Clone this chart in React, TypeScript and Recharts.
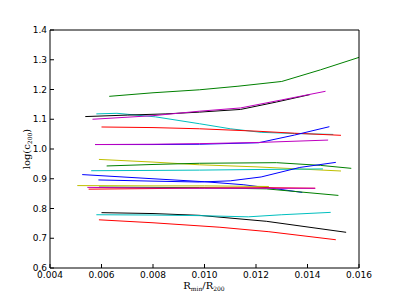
import { LineChart, Line, XAxis, YAxis } from "recharts";

type Pt = { x: number; y: number };

const xTicks = [0.004, 0.006, 0.008, 0.01, 0.012, 0.014, 0.016];
const yTicks = [0.6, 0.7, 0.8, 0.9, 1.0, 1.1, 1.2, 1.3, 1.4];

// upper bunch
const greenTop: Pt[] = [
  { x: 0.0063, y: 1.177 }, { x: 0.008, y: 1.189 }, { x: 0.0098, y: 1.199 },
  { x: 0.0113, y: 1.211 }, { x: 0.013, y: 1.227 }, { x: 0.0145, y: 1.266 },
  { x: 0.016, y: 1.308 },
];
const blackTop: Pt[] = [
  { x: 0.00537, y: 1.109 }, { x: 0.007, y: 1.114 }, { x: 0.0085, y: 1.118 },
  { x: 0.0098, y: 1.124 }, { x: 0.0114, y: 1.133 }, { x: 0.0128, y: 1.158 },
  { x: 0.0141, y: 1.183 },
];
const magentaTop: Pt[] = [
  { x: 0.00565, y: 1.1 }, { x: 0.008, y: 1.112 }, { x: 0.0098, y: 1.127 },
  { x: 0.0114, y: 1.138 }, { x: 0.013, y: 1.165 }, { x: 0.0147, y: 1.194 },
];
const cyanTop: Pt[] = [
  { x: 0.0058, y: 1.118 }, { x: 0.0066, y: 1.12 }, { x: 0.0081, y: 1.108 },
  { x: 0.0098, y: 1.085 }, { x: 0.011, y: 1.068 }, { x: 0.0122, y: 1.056 },
  { x: 0.0135, y: 1.052 }, { x: 0.015, y: 1.049 },
];
const redTop: Pt[] = [
  { x: 0.006, y: 1.074 }, { x: 0.008, y: 1.072 }, { x: 0.0098, y: 1.068 },
  { x: 0.012, y: 1.06 }, { x: 0.0135, y: 1.053 }, { x: 0.0153, y: 1.046 },
];
const blueOne: Pt[] = [
  { x: 0.00575, y: 1.015 }, { x: 0.008, y: 1.015 }, { x: 0.0098, y: 1.016 },
  { x: 0.0121, y: 1.021 }, { x: 0.0135, y: 1.047 }, { x: 0.01485, y: 1.075 },
];
const magentaOne: Pt[] = [
  { x: 0.00575, y: 1.015 }, { x: 0.008, y: 1.016 }, { x: 0.0098, y: 1.018 },
  { x: 0.0121, y: 1.022 }, { x: 0.0148, y: 1.03 },
];

// middle bunch
const yellowMid: Pt[] = [
  { x: 0.0059, y: 0.965 }, { x: 0.008, y: 0.956 }, { x: 0.0098, y: 0.947 },
  { x: 0.012, y: 0.94 }, { x: 0.0153, y: 0.926 },
];
const greenMid: Pt[] = [
  { x: 0.0062, y: 0.943 }, { x: 0.008, y: 0.948 }, { x: 0.0098, y: 0.952 },
  { x: 0.0128, y: 0.954 }, { x: 0.0145, y: 0.945 }, { x: 0.0157, y: 0.935 },
];
const cyanMid: Pt[] = [
  { x: 0.0056, y: 0.927 }, { x: 0.008, y: 0.928 }, { x: 0.0098, y: 0.929 },
  { x: 0.012, y: 0.931 }, { x: 0.0146, y: 0.933 },
];
const blueDown: Pt[] = [
  { x: 0.00525, y: 0.914 }, { x: 0.008, y: 0.9 }, { x: 0.01, y: 0.89 },
  { x: 0.0115, y: 0.88 }, { x: 0.0128, y: 0.866 }, { x: 0.0138, y: 0.854 },
];
const blueUp: Pt[] = [
  { x: 0.00588, y: 0.896 }, { x: 0.008, y: 0.892 }, { x: 0.0098, y: 0.889 },
  { x: 0.011, y: 0.893 }, { x: 0.0122, y: 0.906 }, { x: 0.0137, y: 0.938 },
  { x: 0.0151, y: 0.955 },
];
const yellowLow: Pt[] = [
  { x: 0.00506, y: 0.877 }, { x: 0.008, y: 0.876 }, { x: 0.01, y: 0.876 },
  { x: 0.0125, y: 0.874 },
];
const greenLow: Pt[] = [
  { x: 0.0059, y: 0.872 }, { x: 0.0098, y: 0.87 }, { x: 0.0124, y: 0.866 },
  { x: 0.0152, y: 0.844 },
];
const magentaLow: Pt[] = [
  { x: 0.00545, y: 0.871 }, { x: 0.008, y: 0.869 }, { x: 0.01, y: 0.868 },
  { x: 0.0143, y: 0.868 },
];
const redLow: Pt[] = [
  { x: 0.0055, y: 0.865 }, { x: 0.008, y: 0.867 }, { x: 0.01, y: 0.869 },
  { x: 0.0124, y: 0.87 }, { x: 0.0143, y: 0.868 },
];

// bottom bunch
const blackBottom: Pt[] = [
  { x: 0.006, y: 0.786 }, { x: 0.008, y: 0.783 }, { x: 0.0098, y: 0.777 },
  { x: 0.0124, y: 0.757 }, { x: 0.0155, y: 0.72 },
];
const cyanBottom: Pt[] = [
  { x: 0.0058, y: 0.779 }, { x: 0.008, y: 0.778 }, { x: 0.0098, y: 0.776 },
  { x: 0.0117, y: 0.772 }, { x: 0.013, y: 0.779 }, { x: 0.0149, y: 0.787 },
];
const redBottom: Pt[] = [
  { x: 0.0059, y: 0.762 }, { x: 0.008, y: 0.752 }, { x: 0.0106, y: 0.737 },
  { x: 0.0125, y: 0.722 }, { x: 0.0151, y: 0.695 },
];

const B = "#0000ff";
const G = "#008000";
const R = "#ff0000";
const C = "#00bfbf";
const M = "#bf00bf";
const Y = "#bfbf00";
const K = "#000000";

const series: { data: Pt[]; color: string }[] = [
  { data: greenTop, color: G },
  { data: cyanTop, color: C },
  { data: blackTop, color: K },
  { data: magentaTop, color: M },
  { data: redTop, color: R },
  { data: blueOne, color: B },
  { data: magentaOne, color: M },
  { data: yellowMid, color: Y },
  { data: greenMid, color: G },
  { data: cyanMid, color: C },
  { data: blueDown, color: B },
  { data: blueUp, color: B },
  { data: greenLow, color: G },
  { data: yellowLow, color: Y },
  { data: redLow, color: R },
  { data: magentaLow, color: M },
  { data: blackBottom, color: K },
  { data: cyanBottom, color: C },
  { data: redBottom, color: R },
];

const tickFont = { fontSize: 9, fill: "#000", fontFamily: "DejaVu Sans" };
const serif = "DejaVu Serif";

export default function App() {
  return (
    <div style={{ position: "absolute", left: 0, top: 0, background: "#fff" }}>
      <LineChart
        width={399}
        height={299}
        margin={{ top: 29, right: 39, bottom: 1, left: 10 }}
      >
        <XAxis
          type="number"
          dataKey="x"
          domain={[0.004, 0.016]}
          ticks={xTicks}
          allowDataOverflow
          height={30}
          tickSize={-4}
          tickMargin={8}
          tick={tickFont}
          tickFormatter={(v) => Number(v).toFixed(3)}
          stroke="#000"
          label={{
            content: () => (
              <text x={204} y={289} textAnchor="middle" fontFamily={serif} fontSize={10} fill="#000">
                R<tspan fontSize={6} dy={2}>min</tspan>
                <tspan dy={-2}>/R</tspan>
                <tspan fontSize={6} dy={2}>200</tspan>
              </text>
            ),
          }}
        />
        <XAxis
          xAxisId="top"
          orientation="top"
          type="number"
          dataKey="x"
          domain={[0.004, 0.016]}
          ticks={xTicks}
          allowDataOverflow
          height={1}
          tickSize={-4}
          tick={false}
          stroke="#000"
        />
        <YAxis
          type="number"
          domain={[0.6, 1.4]}
          ticks={yTicks}
          allowDataOverflow
          width={40}
          tickSize={-4}
          tickMargin={7}
          tick={tickFont}
          tickFormatter={(v) => Number(v).toFixed(1)}
          stroke="#000"
          label={{
            content: () => (
              <text
                x={30}
                y={149}
                transform="rotate(-90, 30, 149)"
                textAnchor="middle"
                fontFamily={serif}
                fontSize={10}
                fill="#000"
              >
                log(c<tspan fontSize={6} dy={2}>200</tspan>
                <tspan dy={-2}>)</tspan>
              </text>
            ),
          }}
        />
        <YAxis
          yAxisId="right"
          orientation="right"
          type="number"
          domain={[0.6, 1.4]}
          ticks={yTicks}
          allowDataOverflow
          width={1}
          tickSize={-4}
          tick={false}
          stroke="#000"
        />
        {series.map((s, i) => (
          <Line
            key={i}
            data={s.data}
            dataKey="y"
            type="linear"
            stroke={s.color}
            strokeWidth={1}
            dot={false}
            isAnimationActive={false}
          />
        ))}
      </LineChart>
    </div>
  );
}
